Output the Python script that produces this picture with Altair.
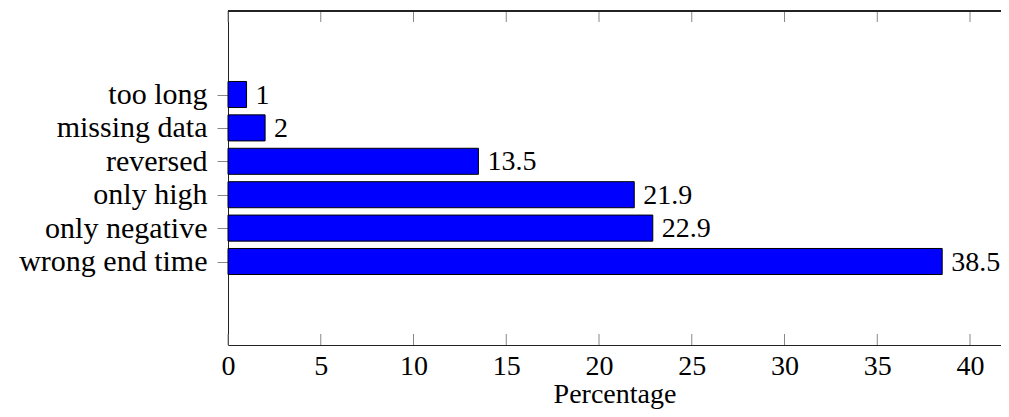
import altair as alt
import pandas as pd

categories = ["too long", "missing data", "reversed", "only high", "only negative", "wrong end time"]
values = [1, 2, 13.5, 21.9, 22.9, 38.5]
value_labels = ["1", "2", "13.5", "21.9", "22.9", "38.5"]
x_ticks = [0, 5, 10, 15, 20, 25, 30, 35, 40]

n = len(categories)
positions = [n - 1 - i for i in range(n)]  # top category highest
df = pd.DataFrame({"cat": categories, "val": values, "lab": value_labels, "pos": positions})
tdf = pd.DataFrame({"t": x_ticks})

W, H = 773, 334
FONT = "Liberation Serif"
FS = 28
HALF = 0.39

xscale = alt.Scale(domain=[0, 41.67], nice=False, zero=True)
yscale = alt.Scale(domain=[-2.5, n - 1 + 2.5], nice=False, zero=False)

label_js = "[" + ",".join("'" + c + "'" for c in reversed(categories)) + "][datum.value]"

bars = alt.Chart(df).transform_calculate(
    y0="datum.pos - %f" % HALF, y1="datum.pos + %f" % HALF, x0="0"
).mark_rect(color="#0000ff", stroke="black", strokeWidth=1).encode(
    x=alt.X("x0:Q", scale=xscale,
            axis=alt.Axis(values=x_ticks, orient="bottom", title="Percentage", ticks=False,
                          grid=False, domainColor="#222222", labelFont=FONT, labelFontSize=FS,
                          labelColor="black", labelPadding=7, titleFont=FONT, titleFontSize=FS,
                          titleColor="black", titleFontWeight="normal", titlePadding=0,
                          labelFlush=False)),
    x2=alt.X2("val:Q"),
    y=alt.Y("y0:Q", scale=yscale,
            axis=alt.Axis(title=None, values=positions, labelExpr=label_js, tickSize=11,
                          tickColor="#888888", domainColor="#222222",
                          labelFont=FONT, labelFontSize=30, labelColor="black",
                          labelPadding=10, grid=False, labelFlush=False, labelLimit=400)),
    y2=alt.Y2("y1:Q"),
)

texts = alt.Chart(df).mark_text(align="left", baseline="middle", dx=9, dy=1,
                                font=FONT, fontSize=FS, color="black").encode(
    x=alt.X("val:Q", scale=xscale),
    y=alt.Y("pos:Q", scale=yscale),
    text="lab:N",
)

top_border = alt.Chart(tdf).mark_rule(color="#222222", strokeWidth=1).encode(
    x=alt.value(0), x2=alt.value(W), y=alt.value(0)
)

bottom_ticks = alt.Chart(tdf).mark_rule(color="#888888", strokeWidth=1).encode(
    x=alt.X("t:Q", scale=xscale), y=alt.value(H - 11), y2=alt.value(H)
)
top_ticks = alt.Chart(tdf).mark_rule(color="#888888", strokeWidth=1).encode(
    x=alt.X("t:Q", scale=xscale), y=alt.value(0), y2=alt.value(11)
)

chart = alt.layer(bars, texts, bottom_ticks, top_ticks, top_border).properties(
    width=W, height=H,
    autosize=alt.AutoSizeParams(type="none"),
    padding={"left": 220, "top": 3, "right": 0, "bottom": 64},
).configure_view(stroke=None)

chart.save("out.html", embed_options={"renderer": "svg", "actions": False})
